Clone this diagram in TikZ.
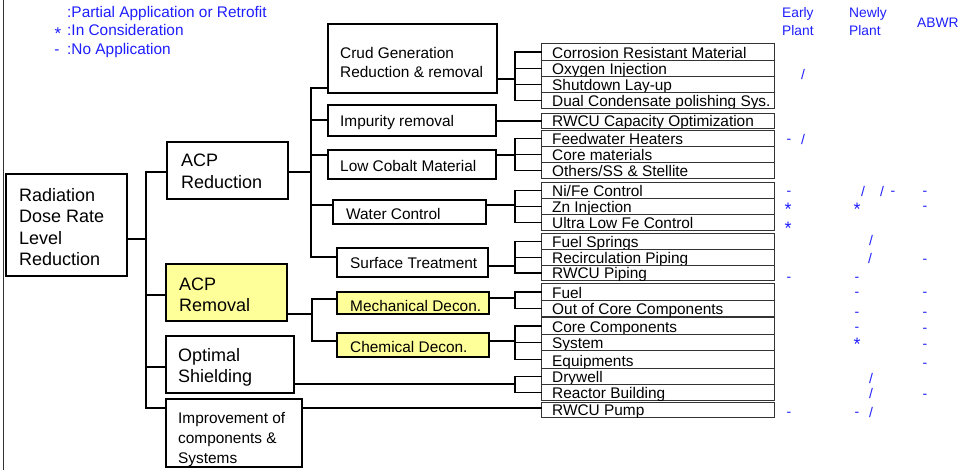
\documentclass[tikz,border=0pt]{standalone}
\usepackage{fontspec}
\setmainfont{Liberation Sans}
\definecolor{legblue}{RGB}{30,30,255}
\definecolor{hiyel}{RGB}{255,255,153}
\newcommand\leaf[4]{%
  \pgfmathsetmacro\leafh{#3-#2}%
  \node[leafbox, minimum height=\leafh pt] (#1) at (541,#2) {};
  \begin{scope}
    \clip (541,#2) rectangle (774,#3);
    \node[leaftxt] (#1t) at (552,#3-1.2) {#4};
  \end{scope}}
\newcommand\mk[4]{\node[marktxt] (#1) at (#2,#3) {#4};}
\newcommand\mks[3]{\node[marktxt, font=\fontsize{18}{20}\selectfont] (#1) at (#2,#3) {*};}
\begin{document}
\begin{tikzpicture}[x=1pt,y=-1pt, line join=miter,
  box/.style={draw=black, line width=1.5pt, inner sep=0pt},
  lblm/.style={anchor=north west, inner sep=0pt, align=left},
  lbls/.style={anchor=base west, inner sep=0pt},
  conn/.style={draw=black, line width=1.6pt, line cap=rect},
  leafbox/.style={draw=black!80, line width=1.3pt, minimum width=233pt, inner sep=0pt, anchor=north west},
  leaftxt/.style={anchor=base west, inner sep=0pt, font=\fontsize{15.4}{18}\selectfont},
  marktxt/.style={anchor=base, inner sep=0pt, text=legblue, font=\fontsize{14}{16}\selectfont},
  legtxt/.style={anchor=base west, inner sep=0pt, text=legblue, font=\fontsize{15.4}{18}\selectfont},
  headtxt/.style={anchor=base west, inner sep=0pt, text=legblue, font=\fontsize{13.8}{16}\selectfont},
  bigf/.style={font=\fontsize{18}{21.4}\selectfont},
  midf/.style={font=\fontsize{15.4}{19}\selectfont},
]
\useasboundingbox (0,0) rectangle (960,470);
\draw[line width=1.8pt, black!80] (3.5,0) -- (3.5,470);

% legend
\node[legtxt] (lg1) at (67,17.3) {:Partial Application or Retrofit};
\node[legtxt] (lg2) at (67,36) {:In Consideration};
\node[legtxt] (lg3) at (67,55) {:No Application};
\node[legtxt, anchor=base, font=\fontsize{17}{18}\selectfont] (lg2s) at (58,39.5) {*};
\node[legtxt, anchor=base] (lg3s) at (57,54.5) {-};

% headers
\node[headtxt] (h1a) at (782,17.3) {Early};
\node[headtxt] (h1b) at (782,36) {Plant};
\node[headtxt] (h2a) at (849,17.3) {Newly};
\node[headtxt] (h2b) at (849,36) {Plant};
\node[headtxt] (h3) at (917,27.7) {ABWR};

% main boxes
\node[box, minimum width=121pt, minimum height=102pt] (root) at (66.5,225) {};
\node[lblm, bigf] (rootT) at (19,188.3) {Radiation\\Dose Rate\\Level\\Reduction};
\node[box, minimum width=121pt, minimum height=57pt] (acpred) at (227.5,170.5) {};
\node[lblm, bigf] (acpredT) at (181,154) {ACP\\Reduction};
\node[box, fill=hiyel, minimum width=121pt, minimum height=57pt] (acprem) at (226.5,292.5) {};
\node[lblm, bigf] (acpremT) at (179,277.3) {ACP\\Removal};
\node[box, minimum width=128pt, minimum height=57pt] (shield) at (230,364.5) {};
\node[lblm, bigf] (shieldT) at (178,348.3) {Optimal\\Shielding};
\node[box, minimum width=136pt, minimum height=68pt] (improve) at (234,433) {};
\node[lblm, font=\fontsize{15.4}{20}\selectfont] (improveT) at (178,412.5) {Improvement of\\components \&\\Systems};

\node[box, minimum width=169pt, minimum height=69pt] (crud) at (412.5,58.5) {};
\node[lblm, midf] (crudT) at (340,46.7) {Crud Generation\\Reduction \& removal};
\node[box, minimum width=168pt, minimum height=31pt] (impur) at (412,120.5) {};
\node[lbls, midf] (impurT) at (340,126.7) {Impurity removal};
\node[box, minimum width=168pt, minimum height=29pt] (lowco) at (412,164.5) {};
\node[lbls, midf] (lowcoT) at (340,171.7) {Low Cobalt Material};
\node[box, minimum width=153pt, minimum height=24pt] (water) at (409.5,212) {};
\node[lbls, midf] (waterT) at (346,219.3) {Water Control};
\node[box, minimum width=151pt, minimum height=29pt] (surf) at (412.5,262.5) {};
\node[lbls, midf] (surfT) at (350,268.3) {Surface Treatment};
\node[box, fill=hiyel, minimum width=152pt, minimum height=22pt] (mech) at (413,303) {};
\node[lbls, midf] (mechT) at (350,311.7) {Mechanical Decon.};
\node[box, fill=hiyel, minimum width=152pt, minimum height=24pt] (chem) at (413,345) {};
\node[lbls, midf] (chemT) at (350,352.7) {Chemical Decon.};

% leaves
\leaf{L1}{43}{60}{Corrosion Resistant Material}
\leaf{L2}{60}{76}{Oxygen Injection}
\leaf{L3}{76}{92}{Shutdown Lay-up}
\leaf{L4}{92}{108}{Dual Condensate polishing Sys.}
\leaf{L5}{113}{128}{RWCU Capacity Optimization}
\leaf{L6}{130}{146}{Feedwater Heaters}
\leaf{L7}{146}{162}{Core materials}
\leaf{L8}{162}{178}{Others/SS \& Stellite}
\leaf{L9}{182}{198}{Ni/Fe Control}
\leaf{L10}{198}{214}{Zn Injection}
\leaf{L11}{214}{230}{Ultra Low Fe Control}
\leaf{L12}{233}{249}{Fuel Springs}
\leaf{L13}{249}{265}{Recirculation Piping}
\leaf{L14}{265}{280}{RWCU Piping}
\leaf{L15}{283}{300}{Fuel}
\leaf{L16}{300}{316}{Out of Core Components}
\leaf{L17}{317}{334}{Core Components}
\leaf{L18}{334}{350}{System}
\leaf{L19}{350}{368}{Equipments}
\leaf{L20}{368}{384}{Drywell}
\leaf{L21}{384}{400}{Reactor Building}
\leaf{L22}{402}{417}{RWCU Pump}

% connectors level 1
\coordinate (j0) at (146,239);
\coordinate (b1) at (146,172);
\coordinate (b2) at (146,295);
\coordinate (b3) at (146,367);
\coordinate (b4) at (146,408);
\draw[conn] (j0 -| root.east) -- (j0);
\draw[conn] (b1) -- (b4);
\draw[conn] (b1) -- (b1 -| acpred.west);
\draw[conn] (b2) -- (b2 -| acprem.west);
\draw[conn] (b3) -- (b3 -| shield.west);
\draw[conn] (b4) -- (b4 -| improve.west);
\draw[conn] (b4 -| improve.east) -- (b4 -| L22.west);

% ACP reduction
\coordinate (j1) at (311,172);
\coordinate (c1) at (311,88);
\coordinate (c2) at (311,120);
\coordinate (c3) at (311,155);
\coordinate (c4) at (311,205);
\coordinate (c5) at (311,257);
\draw[conn] (j1 -| acpred.east) -- (j1);
\draw[conn] (c1) -- (c5);
\draw[conn] (c1) -- (c1 -| crud.west);
\draw[conn] (c2) -- (c2 -| impur.west);
\draw[conn] (c3) -- (c3 -| lowco.west);
\draw[conn] (c4) -- (c4 -| water.west);
\draw[conn] (c5) -- (c5 -| surf.west);

% ACP removal
\coordinate (j2) at (312,314);
\coordinate (e1) at (312,299);
\coordinate (e2) at (312,341);
\draw[conn] (j2 -| acprem.east) -- (j2);
\draw[conn] (e1) -- (e2);
\draw[conn] (e1) -- (e1 -| mech.west);
\draw[conn] (e2) -- (e2 -| chem.west);

% leaf groups
\coordinate (d1) at (515,79);
\draw[conn] (d1 -| crud.east) -- (d1);
\draw[conn] (L1.west -| d1) -- (L4.west -| d1);
\foreach \n in {L1,L2,L3,L4} \draw[conn] (\n.west -| d1) -- (\n.west);

\draw[conn] (L5.west -| impur.east) -- (L5.west);

\coordinate (d3) at (515,155);
\draw[conn] (d3 -| lowco.east) -- (d3);
\draw[conn] (L6.west -| d3) -- (L8.west -| d3);
\foreach \n in {L6,L7,L8} \draw[conn] (\n.west -| d3) -- (\n.west);

\coordinate (d4) at (515,205);
\draw[conn] (d4 -| water.east) -- (d4);
\draw[conn] (L9.west -| d4) -- (L11.west -| d4);
\foreach \n in {L9,L10,L11} \draw[conn] (\n.west -| d4) -- (\n.west);

\coordinate (d5) at (515,266);
\draw[conn] (d5 -| surf.east) -- (d5);
\draw[conn] (L12.west -| d5) -- (L14.west -| d5);
\foreach \n in {L12,L13,L14} \draw[conn] (\n.west -| d5) -- (\n.west);

\coordinate (d6) at (515,298);
\draw[conn] (d6 -| mech.east) -- (d6);
\draw[conn] (L15.west -| d6) -- (L16.west -| d6);
\foreach \n in {L15,L16} \draw[conn] (\n.west -| d6) -- (\n.west);

\coordinate (d7) at (515,341);
\draw[conn] (d7 -| chem.east) -- (d7);
\draw[conn] (L17.west -| d7) -- (L19.west -| d7);
\foreach \n in {L17,L18,L19} \draw[conn] (\n.west -| d7) -- (\n.west);

\coordinate (d8) at (515,384);
\draw[conn] (d8 -| shield.east) -- (d8);
\draw[conn] (L20.west -| d8) -- (L21.west -| d8);
\foreach \n in {L20,L21} \draw[conn] (\n.west -| d8) -- (\n.west);

% marks
\mk{m1}{803}{80}{/}
\mk{m2}{789}{144}{-}
\mk{m3}{803}{145}{/}
\mk{m4}{789}{196}{-}
\mk{m5}{863}{197}{/}
\mk{m6}{882}{197}{/}
\mk{m7}{893}{196}{-}
\mk{m8}{925}{196}{-}
\mks{m9}{788}{215.5}
\mks{m10}{857}{215.5}
\mk{m11}{925}{211}{-}
\mks{m12}{788}{234.5}
\mk{m13}{871}{245}{/}
\mk{m14}{870}{263}{/}
\mk{m15}{925}{263}{-}
\mk{m16}{789}{281}{-}
\mk{m17}{857}{281}{-}
\mk{m18}{857}{296}{-}
\mk{m19}{925}{296}{-}
\mk{m20}{857}{316}{-}
\mk{m21}{925}{316}{-}
\mk{m22}{857}{331}{-}
\mk{m23}{925}{332}{-}
\mks{m24}{857}{350.5}
\mk{m25}{925}{348}{-}
\mk{m26}{925}{367}{-}
\mk{m27}{871}{383}{/}
\mk{m28}{871}{398}{/}
\mk{m29}{925}{398}{-}
\mk{m30}{789}{416}{-}
\mk{m31}{857}{416}{-}
\mk{m32}{871}{417}{/}
\end{tikzpicture}
\end{document}
